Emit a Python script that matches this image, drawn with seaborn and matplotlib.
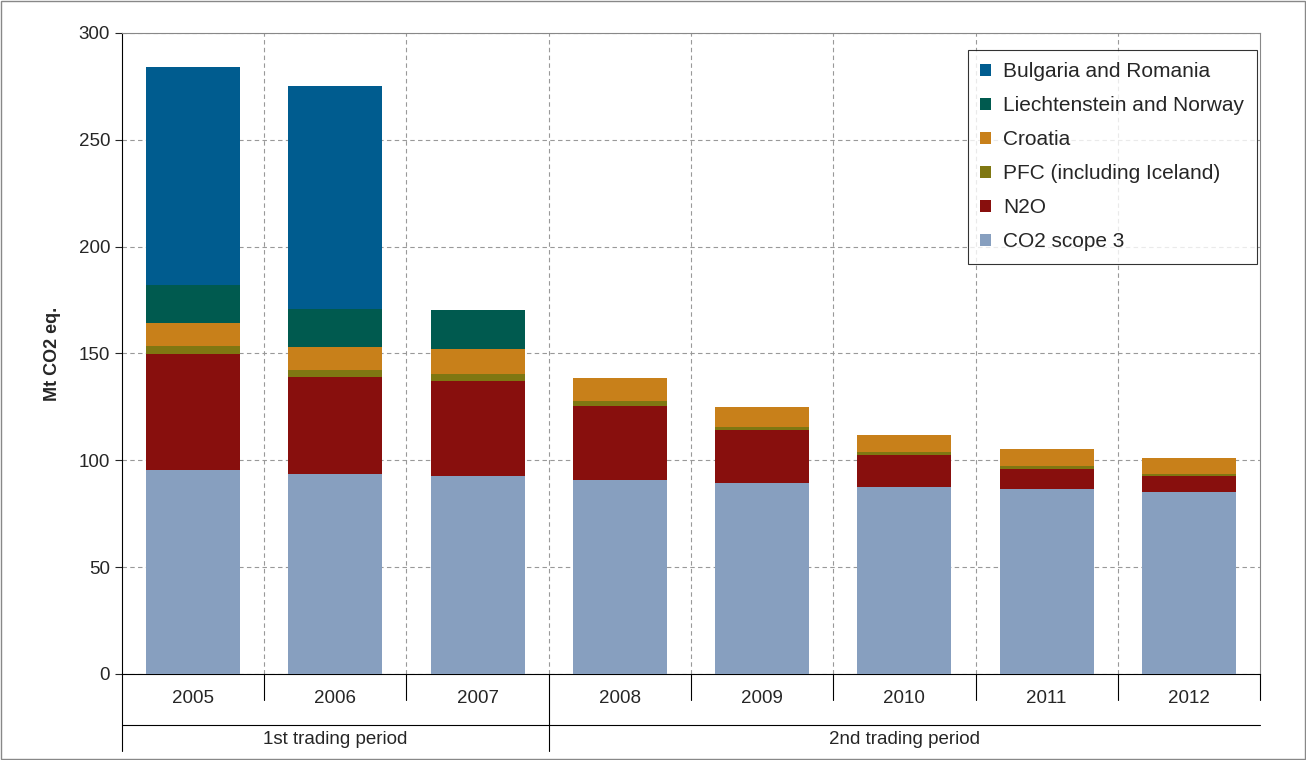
import numpy as np
import pandas as pd
import matplotlib.pyplot as plt
import seaborn as sns
from matplotlib.patches import Rectangle

sns.set_style("white")
plt.rcParams['font.family'] = ['Liberation Sans', 'DejaVu Sans']

years = ["2005", "2006", "2007", "2008", "2009", "2010", "2011", "2012"]
periods = ["1st trading period", "2nd trading period"]
period_len = [3, 5]
series = ["CO2 scope 3", "N2O", "PFC (including Iceland)", "Croatia",
          "Liechtenstein and Norway", "Bulgaria and Romania"]
co2_scope3 = [95.5, 93.6, 92.7, 90.8, 89.4, 87.5, 86.6, 85.2]
n2o = [54.2, 45.4, 44.3, 34.6, 24.8, 15.0, 9.3, 7.5]
pfc = [3.8, 3.3, 3.4, 2.4, 1.4, 1.4, 1.4, 0.9]
croatia = [10.7, 10.7, 11.6, 10.7, 9.4, 7.9, 8.0, 7.4]
liech_norway = [17.8, 17.8, 18.3, 0, 0, 0, 0, 0]
bulg_romania = [102.0, 104.2, 0, 0, 0, 0, 0, 0]
colors = ["#879fbf", "#880f0d", "#7f7712", "#c8801a", "#005a4f", "#005c8f"]

df = pd.DataFrame({"year": years, series[0]: co2_scope3, series[1]: n2o,
                   series[2]: pfc, series[3]: croatia,
                   series[4]: liech_norway, series[5]: bulg_romania})

fig = plt.figure(figsize=(13.06, 7.6), dpi=100)
ax = fig.add_axes([0.0934, 0.1132, 0.8714, 0.8434])
x = np.arange(len(years))
bottom = np.zeros(len(years))
handles = []
for s, c in zip(series, colors):
    h = ax.bar(x, df[s], bottom=bottom, width=0.66, color=c, label=s, zorder=3, linewidth=0)
    handles.append(h)
    bottom += df[s].values

ax.set_xlim(-0.5, len(years) - 0.5)
ax.set_ylim(0, 300)
ax.set_yticks(range(0, 301, 50))
ax.tick_params(axis='y', labelsize=13.5, length=5, direction='out', left=True)
ax.set_xticks([])
ax.yaxis.grid(True, linestyle=(0, (4, 3)), color='#999999', linewidth=0.8, zorder=0)
for xv in np.arange(0.5, len(years) - 0.5):
    ax.axvline(xv, linestyle=(0, (4, 3)), color='#999999', linewidth=0.8, zorder=0)
for sp in ax.spines.values():
    sp.set_color('#888888')
ax.spines['left'].set_color('black')
ax.spines['bottom'].set_color('black')
ax.set_ylabel("Mt CO2 eq.", fontsize=13, fontweight='bold', labelpad=13)

# category labels and separators below the axis
trans = ax.get_xaxis_transform()
for i, y in enumerate(years):
    ax.text(i, -0.038, y, transform=trans, ha='center', va='center', fontsize=13.5)
for xv in np.arange(-0.5, len(years)):
    ax.plot([xv, xv], [0, -0.04 if xv not in (-0.5, 2.5) else -0.12],
            transform=trans, color='black', linewidth=0.8, clip_on=False)
ax.plot([-0.5, 7.5], [-0.08, -0.08], transform=trans, color='black', linewidth=0.8, clip_on=False)
start = -0.5
for p, n in zip(periods, period_len):
    ax.text(start + n / 2, -0.103, p, transform=trans, ha='center', va='center', fontsize=13.5)
    start += n

leg = ax.legend(handles[::-1], series[::-1], loc='upper right', bbox_to_anchor=(0.997, 0.974),
                fontsize=15, frameon=True, fancybox=False, edgecolor='black',
                handlelength=0.5, handleheight=0.5, labelspacing=0.72, borderpad=0.6,
                handletextpad=0.6, borderaxespad=0)
leg.get_frame().set_linewidth(0.8)

fig.patches.append(Rectangle((0.001, 0.001), 0.998, 0.998, transform=fig.transFigure,
                             fill=False, edgecolor='#888888', linewidth=1))
plt.savefig("out.png", dpi=100)
